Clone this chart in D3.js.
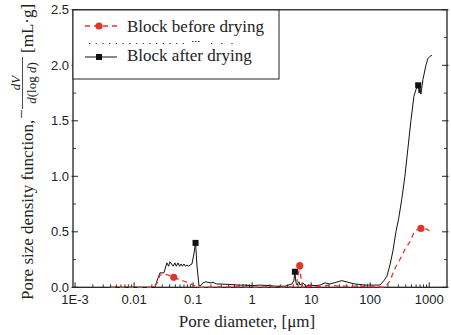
<!DOCTYPE html>
<html>
<head>
<meta charset="utf-8">
<script src="https://cdn.jsdelivr.net/npm/d3@7"></script>
<style>
  body { margin: 0; background: #fff; }
</style>
</head>
<body>
<svg width="451" height="335"></svg>
<script>
// Pore diameter (um) and -dV/d(log d), block after drying
var afterD = [0.004, 0.0225, 0.0253, 0.0274, 0.032, 0.036, 0.0385, 0.0405, 0.046, 0.049, 0.052, 0.0553,
  0.059, 0.0622, 0.066, 0.070, 0.074, 0.0786, 0.084, 0.0883, 0.0955, 0.103, 0.110, 0.116, 0.126, 0.137,
  0.147, 0.165, 0.178, 0.2, 0.217, 0.25, 0.285, 0.42, 0.6, 0.755, 1.0, 1.36, 2.0, 2.43, 3.59, 4.72, 5.1,
  5.3, 5.5, 5.74, 6.2, 6.45, 7.25, 8.15, 9.53, 11.6, 14.1, 17.1, 20.8, 26.3, 33.2, 42, 55, 81, 120, 146,
  171, 192, 216, 243, 273, 306, 344, 387, 435, 489, 550, 594, 650, 675, 695, 723, 781, 878, 949, 1026, 1110];
var afterV = [0, 0, 0.08, 0.13, 0.13, 0.22, 0.19, 0.23, 0.19, 0.22, 0.19, 0.22,
  0.19, 0.21, 0.19, 0.21, 0.19, 0.20, 0.19, 0.20, 0.21, 0.30, 0.40, 0.20, 0.01, 0.02,
  0.04, 0.05, 0.045, 0.04, 0.045, 0.03, 0.03, 0.025, 0.02, 0.02, 0.015, 0.02, 0.015, 0.01, 0.01, 0.03, 0.06,
  0.14, 0.05, 0.02, 0.05, 0.02, 0.04, 0.01, 0.02, 0.015, 0.02, 0.04, 0.03, 0.045, 0.06, 0.045, 0.03, 0.02, 0.02, 0.02,
  0.06, 0.10, 0.20, 0.33, 0.50, 0.63, 0.80, 1.00, 1.25, 1.50, 1.72, 1.78, 1.82, 1.75, 1.80, 1.74, 1.87, 2.00, 2.06, 2.08, 2.09];

// block before drying
var beforeD = [0.004, 0.022, 0.025, 0.0274, 0.032, 0.038, 0.047, 0.055, 0.065, 0.075, 0.088, 0.1, 0.116, 0.13,
  0.5, 1, 2, 4, 5.5, 5.9, 6.4, 6.8, 7.2, 10, 15, 20, 30, 60, 120, 177, 216, 262, 318, 387, 470, 571, 723, 912, 1110];
var beforeV = [0, 0, 0.05, 0.11, 0.12, 0.11, 0.09, 0.075, 0.06, 0.05, 0.035, 0.02, 0.005, 0,
  0.005, 0, 0.005, 0, 0.01, 0.08, 0.195, 0.05, 0, 0.01, 0.005, 0.02, 0.01, 0.01, 0.005, 0, 0.057, 0.17, 0.25, 0.34, 0.41, 0.51, 0.53, 0.525, 0.49];

// symbols drawn on a few points only
var afterMarkD = [0.110, 5.3, 650];
var afterMarkV = [0.40, 0.14, 1.82];
var beforeMarkD = [0.047, 6.4, 723];
var beforeMarkV = [0.09, 0.195, 0.53];

var xTicks = [0.001, 0.01, 0.1, 1, 10, 100, 1000];
var xTickLabels = ["1E-3", "0.01", "0.1", "1", "10", "100", "1000"];
var yTicks = [0, 0.5, 1.0, 1.5, 2.0, 2.5];
var seriesNames = ["Block before drying", "Block after drying"];

var red = "#e5332a";
var sans = "'Liberation Sans', Arial, sans-serif";
var serif = "'Liberation Serif', 'Times New Roman', serif";

var svg = d3.select("svg");

var x = d3.scaleLog().domain([Math.pow(10, -3.035), 2000]).range([73, 447]);
var y = d3.scaleLinear().domain([0, 2.5]).range([287.3, 9.8]);

// minor ticks on the log axis
var xMinor = [];
xTicks.forEach(function(t) {
  for (var k = 2; k < 10; k++) {
    if (t * k < 2000) xMinor.push(t * k);
  }
});
var yMinor = d3.range(0.25, 2.5, 0.5);

var axes = svg.append("g").attr("stroke", "#222");

// bottom ticks, pointing inward
axes.selectAll(".xmaj").data(xTicks).enter().append("line")
  .attr("x1", function(d) { return x(d); }).attr("x2", function(d) { return x(d); })
  .attr("y1", y(0)).attr("y2", y(0) - 5).attr("stroke-width", 1);
axes.selectAll(".xmin").data(xMinor).enter().append("line")
  .attr("x1", function(d) { return x(d); }).attr("x2", function(d) { return x(d); })
  .attr("y1", y(0)).attr("y2", y(0) - 3).attr("stroke-width", 0.9);

// left and right ticks
[73, 447].forEach(function(xp, i) {
  var dir = i == 0 ? 1 : -1;
  axes.selectAll(".ymaj" + i).data(yTicks).enter().append("line")
    .attr("x1", xp - dir * 1.5).attr("x2", xp + dir * 5)
    .attr("y1", function(d) { return y(d); }).attr("y2", function(d) { return y(d); })
    .attr("stroke-width", 1);
  axes.selectAll(".ymin" + i).data(yMinor).enter().append("line")
    .attr("x1", xp).attr("x2", xp + dir * 3)
    .attr("y1", function(d) { return y(d); }).attr("y2", function(d) { return y(d); })
    .attr("stroke-width", 0.9);
});

axes.append("rect")
  .attr("x", 73).attr("y", y(2.5))
  .attr("width", 447 - 73).attr("height", y(0) - y(2.5))
  .attr("fill", "none").attr("stroke-width", 1.3);

// tick labels
svg.selectAll(".xlab").data(xTicks).enter().append("text")
  .attr("x", function(d) { return x(d); })
  .attr("y", 303.5)
  .attr("text-anchor", "middle")
  .style("font-family", sans).style("font-size", "13px").attr("fill", "#222")
  .text(function(d, i) { return xTickLabels[i]; });

svg.selectAll(".ylab").data(yTicks).enter().append("text")
  .attr("x", 69)
  .attr("y", function(d) { return y(d) + 4.6; })
  .attr("text-anchor", "end")
  .style("font-family", sans).style("font-size", "13px").attr("fill", "#222")
  .text(function(d) { return d3.format(".1f")(d); });

// axis titles
svg.append("text")
  .attr("x", 247).attr("y", 327)
  .attr("text-anchor", "middle")
  .style("font-family", serif).style("font-size", "17px").attr("fill", "#222")
  .text("Pore diameter, [\u03bcm]");

var yt = svg.append("g")
  .attr("transform", "translate(33,300) rotate(-90)")
  .style("font-family", serif).attr("fill", "#222");
yt.append("text").attr("x", 0).attr("y", 0).style("font-size", "17px")
  .text("Pore size density function,");
yt.append("text").attr("x", 186).attr("y", -6.5).attr("text-anchor", "middle").style("font-size", "17px")
  .text("\u2212");
yt.append("line").attr("x1", 191).attr("x2", 243).attr("y1", -10.5).attr("y2", -10.5)
  .attr("stroke", "#222").attr("stroke-width", 0.8);
var num = yt.append("text").attr("x", 217).attr("y", -13.5).attr("text-anchor", "middle").style("font-size", "13px");
num.append("tspan").style("font-style", "italic").text("dV");
var den = yt.append("text").attr("x", 217).attr("y", 3).attr("text-anchor", "middle").style("font-size", "13px");
den.append("tspan").style("font-style", "italic").text("d");
den.append("tspan").text("(log ");
den.append("tspan").style("font-style", "italic").text("d");
den.append("tspan").text(")");
yt.append("text").attr("x", 247).attr("y", 0).style("font-size", "17px")
  .text("[mL\u00b7g]");

// curves
var line = d3.line()
  .x(function(d) { return x(d[0]); })
  .y(function(d) { return y(d[1]); });

svg.append("path")
  .datum(d3.zip(afterD, afterV))
  .attr("d", line)
  .attr("fill", "none").attr("stroke", "#111").attr("stroke-width", 1);

svg.append("path")
  .datum(d3.zip(beforeD, beforeV))
  .attr("d", line)
  .attr("fill", "none").attr("stroke", red).attr("stroke-width", 1.3)
  .attr("stroke-dasharray", "5,4");

svg.selectAll(".sq").data(d3.zip(afterMarkD, afterMarkV)).enter().append("rect")
  .attr("x", function(d) { return x(d[0]) - 3; })
  .attr("y", function(d) { return y(d[1]) - 3; })
  .attr("width", 6).attr("height", 6).attr("fill", "#111");

svg.selectAll(".dot").data(d3.zip(beforeMarkD, beforeMarkV)).enter().append("circle")
  .attr("cx", function(d) { return x(d[0]); })
  .attr("cy", function(d) { return y(d[1]); })
  .attr("r", 3.6).attr("fill", red);

// legend
var lg = svg.append("g");
lg.append("rect").attr("x", 73).attr("y", 10).attr("width", 206).attr("height", 69)
  .attr("fill", "#fff").attr("stroke", "#222").attr("stroke-width", 1);
lg.append("line").attr("x1", 85).attr("x2", 117).attr("y1", 26).attr("y2", 26)
  .attr("stroke", red).attr("stroke-width", 1.3).attr("stroke-dasharray", "5,4");
lg.append("circle").attr("cx", 99).attr("cy", 26).attr("r", 3.6).attr("fill", red);
// leftover dotted entry
lg.append("line").attr("x1", 89).attr("x2", 188).attr("y1", 43.5).attr("y2", 43.5)
  .attr("stroke", "#333").attr("stroke-width", 1.2).attr("stroke-dasharray", "1.2,5.5");
lg.append("line").attr("x1", 192).attr("x2", 201).attr("y1", 41.5).attr("y2", 41.5)
  .attr("stroke", "#333").attr("stroke-width", 1.2).attr("stroke-dasharray", "1.5,1.5");
lg.append("line").attr("x1", 211).attr("x2", 236).attr("y1", 43.5).attr("y2", 43.5)
  .attr("stroke", "#333").attr("stroke-width", 1.2).attr("stroke-dasharray", "1.2,9");
lg.append("line").attr("x1", 85).attr("x2", 117).attr("y1", 57).attr("y2", 57)
  .attr("stroke", "#111").attr("stroke-width", 1);
lg.append("rect").attr("x", 96).attr("y", 54).attr("width", 6).attr("height", 6).attr("fill", "#111");

lg.selectAll(".lt").data(seriesNames).enter().append("text")
  .attr("x", 127)
  .attr("y", function(d, i) { return i == 0 ? 32 : 61; })
  .style("font-family", serif).style("font-size", "17px").attr("fill", "#222")
  .text(function(d) { return d; });
</script>
</body>
</html>
